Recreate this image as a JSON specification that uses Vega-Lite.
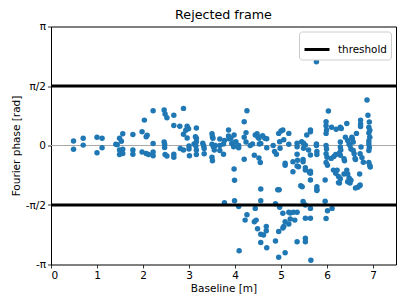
{
  "$schema": "https://vega.github.io/schema/vega-lite/v6.json",
  "width": 345,
  "height": 238,
  "autosize": "none",
  "padding": {"left": 51, "top": 26.5, "right": 11, "bottom": 40.5},
  "background": "white",
  "config": {
    "font": "DejaVu Sans",
    "view": {"stroke": "black", "strokeWidth": 1},
    "axis": {"domain": false, "grid": false, "tickColor": "black", "tickSize": 3.5, "tickWidth": 0.8, "labelFontSize": 10.5, "titleFontSize": 10.5, "labelColor": "black", "titleColor": "black", "titleFontWeight": "normal", "labelPadding": 2}
  },
  "title": {"text": "Rejected frame", "fontSize": 12.7, "fontWeight": "normal", "offset": 0, "color": "black"},
  "datasets": {
    "pts": [
      {"b":0.49,"p":0.12},{"b":0.49,"p":-0.10},{"b":0.70,"p":0.19},{"b":0.70,"p":0.01},{"b":1.00,"p":0.22},{"b":1.00,"p":-0.19},{"b":1.11,"p":0.19},{"b":1.11,"p":-0.06},{"b":1.41,"p":0.03},{"b":1.44,"p":0.02},{"b":1.49,"p":0.19},{"b":1.49,"p":-0.12},{"b":1.49,"p":-0.24},{"b":1.53,"p":0.11},{"b":1.56,"p":0.31},{"b":1.56,"p":-0.10},{"b":1.56,"p":-0.21},{"b":1.78,"p":0.29},{"b":1.78,"p":-0.12},{"b":1.78,"p":-0.23},{"b":1.98,"p":0.36},{"b":1.98,"p":-0.17},{"b":2.03,"p":0.67},{"b":2.07,"p":0.23},{"b":2.09,"p":0.27},{"b":2.07,"p":-0.21},{"b":2.12,"p":-0.24},{"b":2.22,"p":0.92},{"b":2.22,"p":0.05},{"b":2.22,"p":-0.17},{"b":2.22,"p":-0.27},{"b":2.46,"p":0.94},{"b":2.48,"p":0.83},{"b":2.52,"p":0.73},{"b":2.46,"p":0.09},{"b":2.47,"p":0.03},{"b":2.47,"p":-0.05},{"b":2.48,"p":-0.24},{"b":2.52,"p":-0.28},{"b":2.67,"p":0.80},{"b":2.67,"p":0.53},{"b":2.67,"p":-0.23},{"b":2.67,"p":-0.31},{"b":2.80,"p":0.51},{"b":2.81,"p":-0.08},{"b":2.88,"p":-0.12},{"b":2.88,"p":0.98},{"b":2.88,"p":0.30},{"b":2.93,"p":0.40},{"b":2.96,"p":0.51},{"b":2.96,"p":0.20},{"b":2.99,"p":0.44},{"b":3.00,"p":-0.01},{"b":3.00,"p":-0.09},{"b":3.01,"p":-0.27},{"b":3.11,"p":0.04},{"b":3.14,"p":0.23},{"b":3.16,"p":0.46},{"b":3.16,"p":0.19},{"b":3.16,"p":0.10},{"b":3.15,"p":-0.01},{"b":3.16,"p":-0.12},{"b":3.16,"p":-0.24},{"b":3.30,"p":0.06},{"b":3.32,"p":-0.01},{"b":3.33,"p":-0.08},{"b":3.33,"p":-0.22},{"b":3.50,"p":0.31},{"b":3.51,"p":0.23},{"b":3.52,"p":0.19},{"b":3.50,"p":0.03},{"b":3.53,"p":-0.03},{"b":3.55,"p":-0.12},{"b":3.50,"p":-0.31},{"b":3.51,"p":-0.40},
      {"b":3.57,"p":0.00},{"b":3.67,"p":0.17},{"b":3.67,"p":0.00},{"b":3.67,"p":-0.13},{"b":3.75,"p":0.04},{"b":3.75,"p":-0.23},{"b":3.77,"p":0.13},{"b":3.86,"p":0.41},{"b":3.86,"p":0.25},{"b":3.87,"p":0.18},{"b":3.91,"p":0.19},{"b":3.93,"p":0.05},{"b":3.97,"p":0.07},{"b":3.97,"p":-0.03},{"b":3.98,"p":0.28},{"b":4.02,"p":0.10},{"b":3.98,"p":-0.62},{"b":3.99,"p":-0.92},{"b":3.99,"p":-1.46},{"b":3.77,"p":-1.51},{"b":4.08,"p":-0.06},{"b":4.08,"p":0.00},{"b":4.08,"p":-1.61},{"b":4.09,"p":-2.78},{"b":4.20,"p":0.63},{"b":4.20,"p":0.22},{"b":4.24,"p":0.34},{"b":4.24,"p":0.09},{"b":4.20,"p":-0.36},{"b":4.22,"p":-1.97},{"b":4.26,"p":0.92},{"b":4.26,"p":-1.83},{"b":4.33,"p":0.00},{"b":4.38,"p":0.04},{"b":4.42,"p":-0.26},{"b":4.42,"p":-2.01},{"b":4.44,"p":-1.66},{"b":4.46,"p":-1.97},{"b":4.44,"p":0.28},{"b":4.48,"p":0.31},{"b":4.50,"p":0.22},{"b":4.49,"p":-2.20},{"b":4.52,"p":0.19},{"b":4.52,"p":-0.33},{"b":4.55,"p":-0.45},{"b":4.56,"p":0.05},{"b":4.53,"p":0.04},{"b":4.56,"p":-1.15},{"b":4.56,"p":-1.46},{"b":4.56,"p":-2.34},{"b":4.56,"p":-2.56},{"b":4.62,"p":-2.36},{"b":4.60,"p":0.26},{"b":4.65,"p":0.19},{"b":4.68,"p":-2.14},{"b":4.68,"p":-2.25},{"b":4.69,"p":0.18},{"b":4.69,"p":-0.06},{"b":4.69,"p":-2.70},{"b":4.83,"p":0.00},{"b":4.86,"p":-0.16},{"b":4.90,"p":-0.23},{"b":4.88,"p":-1.54},{"b":4.88,"p":-2.52},{"b":4.93,"p":-1.17},{"b":4.95,"p":0.32},{"b":4.95,"p":-2.27},{"b":4.95,"p":-2.95},{"b":4.97,"p":0.10},{"b":4.98,"p":-0.07},{"b":4.96,"p":-1.17},{"b":4.97,"p":-1.63},
      {"b":5.00,"p":0.38},{"b":5.04,"p":0.41},{"b":5.06,"p":0.15},{"b":5.04,"p":-1.79},{"b":5.04,"p":-2.18},{"b":5.06,"p":-2.14},{"b":5.09,"p":-0.47},{"b":5.09,"p":-0.52},{"b":5.09,"p":-2.01},{"b":5.09,"p":-2.83},{"b":5.17,"p":0.32},{"b":5.17,"p":0.03},{"b":5.17,"p":-1.76},{"b":5.17,"p":-2.07},{"b":5.20,"p":-1.78},{"b":5.20,"p":-1.94},{"b":5.26,"p":-0.43},{"b":5.26,"p":-0.69},{"b":5.27,"p":-1.76},{"b":5.30,"p":-1.97},{"b":5.35,"p":0.06},{"b":5.35,"p":-0.03},{"b":5.35,"p":-0.23},{"b":5.36,"p":-0.39},{"b":5.38,"p":-0.56},{"b":5.35,"p":-0.54},{"b":5.35,"p":-1.76},{"b":5.35,"p":-2.54},{"b":5.43,"p":-1.06},{"b":5.46,"p":-1.09},{"b":5.45,"p":0.10},{"b":5.49,"p":0.06},{"b":5.49,"p":-0.07},{"b":5.48,"p":-0.37},{"b":5.48,"p":-0.43},{"b":5.48,"p":-1.48},{"b":5.53,"p":0.01},{"b":5.56,"p":0.28},{"b":5.53,"p":-0.59},{"b":5.53,"p":-0.65},{"b":5.53,"p":-1.57},{"b":5.53,"p":-1.92},{"b":5.53,"p":-2.45},{"b":5.53,"p":-2.54},{"b":5.60,"p":-0.12},{"b":5.64,"p":-0.25},{"b":5.62,"p":-0.71},{"b":5.64,"p":-0.73},{"b":5.64,"p":-0.91},{"b":5.64,"p":0.41},{"b":5.64,"p":0.36},{"b":5.64,"p":-0.68},{"b":5.64,"p":-1.66},{"b":5.64,"p":-1.92},{"b":5.65,"p":-3.03},{"b":5.77,"p":0.00},{"b":5.77,"p":0.04},{"b":5.77,"p":2.21},{"b":5.78,"p":-0.16},{"b":5.78,"p":-0.24},{"b":5.78,"p":-1.09},{"b":5.78,"p":-1.16},{"b":5.78,"p":-1.19},{"b":5.96,"p":-0.91},{"b":5.96,"p":-1.47},{"b":5.98,"p":-1.93},
      {"b":5.98,"p":0.63},{"b":5.98,"p":0.52},{"b":5.99,"p":0.41},{"b":5.98,"p":0.32},{"b":5.98,"p":0.00},{"b":5.99,"p":-0.09},{"b":5.98,"p":-0.22},{"b":6.00,"p":-0.31},{"b":5.98,"p":-0.45},{"b":6.01,"p":-0.52},{"b":6.03,"p":0.91},{"b":6.01,"p":-1.72},{"b":6.09,"p":-0.34},{"b":6.11,"p":-1.66},{"b":6.10,"p":0.48},{"b":6.14,"p":-0.65},{"b":6.15,"p":-0.29},{"b":6.19,"p":-0.24},{"b":6.19,"p":-0.73},{"b":6.20,"p":0.43},{"b":6.22,"p":-0.65},{"b":6.25,"p":-0.82},{"b":6.25,"p":-0.98},{"b":6.27,"p":-0.20},{"b":6.27,"p":-0.99},{"b":6.29,"p":0.48},{"b":6.31,"p":0.45},{"b":6.29,"p":0.09},{"b":6.29,"p":-0.04},{"b":6.30,"p":-0.12},{"b":6.29,"p":-0.26},{"b":6.29,"p":-0.88},{"b":6.37,"p":-0.35},{"b":6.38,"p":-0.40},{"b":6.37,"p":-0.75},{"b":6.40,"p":0.22},{"b":6.43,"p":0.58},{"b":6.43,"p":-0.65},{"b":6.45,"p":0.13},{"b":6.45,"p":-0.75},{"b":6.45,"p":-0.96},{"b":6.48,"p":0.04},{"b":6.48,"p":-0.86},{"b":6.50,"p":0.00},{"b":6.52,"p":-0.09},{"b":6.52,"p":-0.92},{"b":6.50,"p":-0.99},{"b":6.54,"p":0.22},{"b":6.55,"p":0.18},{"b":6.57,"p":0.09},{"b":6.57,"p":-0.13},{"b":6.59,"p":-0.22},{"b":6.61,"p":-0.34},{"b":6.62,"p":-0.37},{"b":6.62,"p":-1.12},{"b":6.64,"p":0.32},{"b":6.67,"p":-1.10},{"b":6.71,"p":-0.75},{"b":6.71,"p":-1.06},{"b":6.72,"p":-0.22},{"b":6.74,"p":-0.04},{"b":6.72,"p":-1.04},{"b":6.73,"p":0.67},{"b":6.73,"p":0.57},{"b":6.73,"p":0.50},{"b":6.76,"p":-0.32},{"b":6.79,"p":-0.44},{"b":6.87,"p":1.20},{"b":6.89,"p":0.80},{"b":6.92,"p":0.62},{"b":6.91,"p":0.48},{"b":6.93,"p":0.40},{"b":6.91,"p":0.33},{"b":6.93,"p":0.22},{"b":6.91,"p":0.12},{"b":6.91,"p":0.04},{"b":6.92,"p":-0.05},{"b":6.91,"p":-0.13},{"b":6.91,"p":-0.45},{"b":6.93,"p":-0.53},{"b":6.94,"p":-0.57}
    ],
    "zero": [{"p": 0}],
    "thr": [{"p": 1.5707963, "k": "threshold"}, {"p": -1.5707963, "k": "threshold"}]
  },
  "layer": [
    {
      "data": {"name": "zero"},
      "mark": {"type": "rule", "color": "#a8a8a8", "strokeWidth": 1},
      "encoding": {
        "y": {"field": "p", "type": "quantitative", "scale": {"domain": [-3.14159265, 3.14159265], "nice": false, "zero": false}}
      }
    },
    {
      "data": {"name": "pts"},
      "mark": {"type": "circle", "size": 30, "color": "#1f77b4", "opacity": 1},
      "encoding": {
        "x": {"field": "b", "type": "quantitative", "scale": {"domain": [0, 7.5], "nice": false, "zero": false},
              "axis": {"values": [0, 1, 2, 3, 4, 5, 6, 7], "title": "Baseline [m]", "titlePadding": 3, "titleFontWeight": "normal"}},
        "y": {"field": "p", "type": "quantitative", "scale": {"domain": [-3.14159265, 3.14159265], "nice": false, "zero": false},
              "axis": {"values": [-3.14159265, -1.5707963, 0, 1.5707963, 3.14159265], "title": "Fourier phase [rad]", "titlePadding": 4, "titleFontWeight": "normal",
                       "labelExpr": "datum.value > 3 ? 'π' : datum.value > 1 ? 'π/2' : datum.value < -3 ? '-π' : datum.value < -1 ? '-π/2' : '0'"}}
      }
    },
    {
      "data": {"name": "thr"},
      "mark": {"type": "rule", "strokeWidth": 3},
      "encoding": {
        "y": {"field": "p", "type": "quantitative"},
        "color": {"field": "k", "type": "nominal", "scale": {"range": ["black"]},
                  "legend": {"title": null, "orient": "top-right", "offset": 5, "fillColor": "white", "strokeColor": "#cccccc", "cornerRadius": 3, "padding": 4,
                             "symbolType": "stroke", "symbolStrokeWidth": 3, "symbolSize": 625, "labelFontSize": 10.4, "labelColor": "black", "labelOffset": 7}}
      }
    }
  ]
}
